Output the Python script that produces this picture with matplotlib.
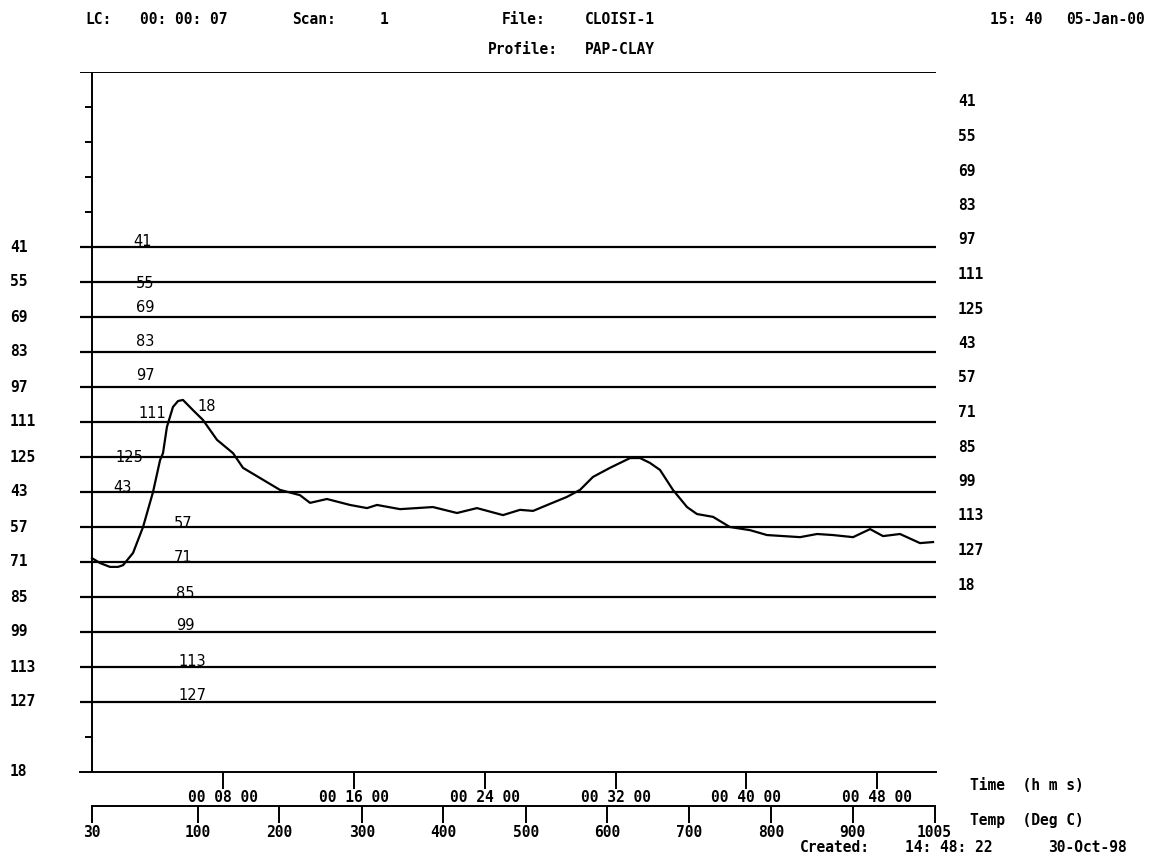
import matplotlib
matplotlib.use('agg')
import matplotlib.pyplot as plt
from matplotlib.transforms import blended_transform_factory

plt.rcParams['font.family'] = 'DejaVu Sans Mono'
plt.rcParams['font.weight'] = 'bold'
plt.rcParams['font.size'] = 10.5

# ion channels, top to bottom, and the slot each one is drawn on
masses = [41, 55, 69, 83, 97, 111, 125, 43, 57, 71, 85, 99, 113, 127]
levels = [15, 14, 13, 12, 11, 10, 9, 8, 7, 6, 5, 4, 3, 2]
# m/z 18 has its baseline at the bottom of the frame
base_mass = 18
base_level = 0
# listing order of the right hand column
legend_masses = [41, 55, 69, 83, 97, 111, 125, 43, 57, 71, 85, 99, 113, 127, 18]

# m/z 18 profile: time (min) and height (slot units)
t18 = [0.00, 0.49, 1.10, 1.59, 1.90, 2.51, 3.12, 3.73, 4.16, 4.34, 4.58, 4.95,
       5.26, 5.56, 6.17, 6.78, 7.64, 8.62, 9.23, 10.27, 11.49, 12.71, 13.33,
       14.36, 15.77, 16.81, 17.42, 18.83, 20.84, 22.31, 23.53, 25.12, 26.16,
       26.96, 27.99, 29.03, 29.83, 30.62, 31.66, 32.89, 33.50, 34.11, 34.72,
       35.51, 36.37, 36.98, 37.96, 38.99, 40.22, 41.26, 43.28, 44.32, 45.29,
       46.52, 47.56, 48.35, 49.39, 50.61, 51.41]
i18 = [6.11, 5.97, 5.86, 5.86, 5.91, 6.26, 7.00, 8.00, 8.91, 9.11, 9.86, 10.43,
       10.60, 10.63, 10.34, 10.06, 9.49, 9.11, 8.69, 8.40, 8.06, 7.91, 7.69,
       7.80, 7.63, 7.54, 7.63, 7.51, 7.57, 7.40, 7.54, 7.34, 7.49,
       7.46, 7.66, 7.86, 8.06, 8.43, 8.69, 8.97, 8.97, 8.83, 8.63,
       8.06, 7.57, 7.37, 7.29, 7.00, 6.91, 6.77, 6.71, 6.80, 6.77,
       6.71, 6.94, 6.74, 6.80, 6.54, 6.57]

time_ticks = [8, 16, 24, 32, 40, 48]
time_labels = ['00 08 00', '00 16 00', '00 24 00', '00 32 00', '00 40 00', '00 48 00']
temp_labels = ['30', '100', '200', '300', '400', '500', '600', '700', '800', '900', '1005']
temp_times = [0, 6.48, 11.43, 16.50, 21.45, 26.53, 31.48, 36.49, 41.50, 46.50, 51.50]

# where the little in-plot mass labels sit (time, offset above line in px)
lbl_t = [3.12, 3.24, 3.24, 3.24, 3.24, 3.67, 2.26, 1.89, 5.56, 5.56, 5.68, 5.68, 6.11, 6.11]
lbl_dy = [5, -1, 9, 10, 12, 9, 0, 5, 4, 5, 4, 7, 5, 7]

W, H = 1153, 856
SLOT = 35.0  # px per slot
fig = plt.figure(figsize=(W / 100, H / 100), dpi=100)
ax = fig.add_axes([80 / W, (H - 772) / H, (936 - 80) / W, 700 / H])
ax.set_xlim(-12 / 16.36, (936 - 92) / 16.36)
ax.set_ylim(0, 20)

for s in ['top', 'right', 'left']:
    ax.spines[s].set_visible(False)
ax.spines['bottom'].set_linewidth(1.4)
ax.set_yticks([])

# frame: top line and left axis
ax.axhline(20, color='k', lw=1.4)
ax.axvline(0, color='k', lw=1.4)
ax.hlines([1, 16, 17, 18, 19], -0.45, 0, color='k', lw=1.4)

# flat channels
for m, lv, tx, dy in zip(masses, levels, lbl_t, lbl_dy):
    ax.axhline(lv, color='k', lw=1.6)
    ax.text(tx, lv + dy / SLOT, str(m), ha='center', va='center',
            family='DejaVu Sans', weight='normal', size=10.5)

ax.plot(t18, i18, color='k', lw=1.6)
ax.text(7.03, 10.43, str(base_mass), ha='center', va='center',
        family='DejaVu Sans', weight='normal', size=10.5)

# time axis
ax.set_xticks(time_ticks, labels=time_labels)
ax.tick_params(axis='x', direction='out', length=12, width=1.4, pad=1, labelsize=10.5)

# temperature axis below it
sec = ax.secondary_xaxis(-34 / 700)
sec.set_xticks(temp_times, labels=temp_labels)
sec.tick_params(axis='x', direction='out', length=12, width=1.4, pad=2, labelsize=10.5)
sec.spines['bottom'].set_bounds(0, 51.5)
sec.spines['bottom'].set_linewidth(1.4)

# left mass labels
trans = blended_transform_factory(fig.transFigure, ax.transData)
for m, lv in zip(masses + [base_mass], levels + [base_level]):
    ax.text(10 / W, lv, str(m), transform=trans, ha='left', va='center')

# right hand list
for k, m in enumerate(legend_masses):
    fig.text(958 / W, (H - (102 + 34.5 * k)) / H, str(m), ha='left', va='center')

# header
def put(px, py, s):
    fig.text(px / W, (H - py) / H, s, ha='left', va='center')

put(85, 20, 'LC:')
put(140, 20, '00: 00: 07')
put(292, 20, 'Scan:')
put(380, 20, '1')
put(502, 20, 'File:')
put(585, 20, 'CLOISI-1')
put(990, 20, '15: 40')
put(1066, 20, '05-Jan-00')
put(488, 50, 'Profile:')
put(585, 50, 'PAP-CLAY')

put(970, 786, 'Time  (h m s)')
put(970, 820, 'Temp  (Deg C)')
put(800, 847, 'Created:')
put(905, 847, '14: 48: 22')
put(1048, 847, '30-Oct-98')

fig.savefig('out.png', dpi=100)
